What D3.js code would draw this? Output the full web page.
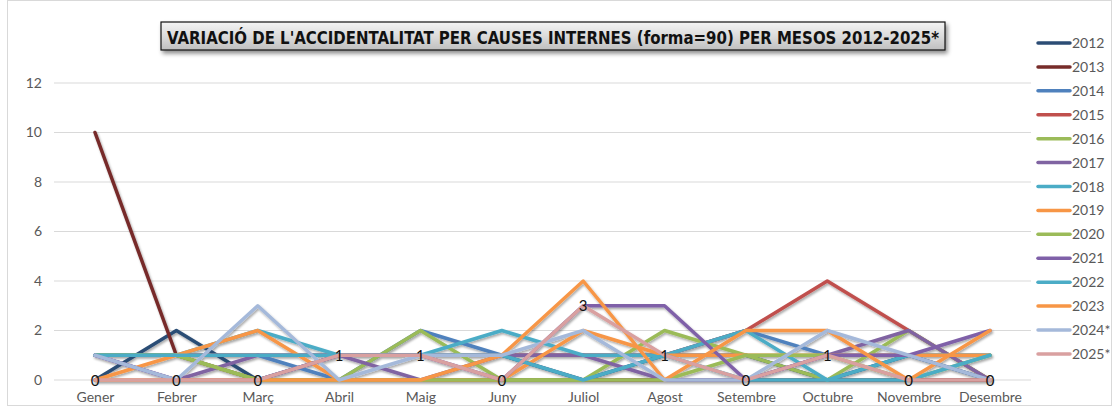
<!DOCTYPE html>
<html>
<head>
<meta charset="utf-8">
<script src="https://cdn.jsdelivr.net/npm/d3@7"></script>
<style>
  html, body { margin: 0; padding: 0; background: #fff; }
  svg { display: block; }
</style>
</head>
<body>
<svg id="chart" width="1113" height="409"></svg>
<script>
// Months on the x axis
const months = ["Gener","Febrer","Març","Abril","Maig","Juny","Juliol","Agost","Setembre","Octubre","Novembre","Desembre"];

// Year series names, in draw order
const years = ["2012","2013","2014","2015","2016","2017","2018","2019","2020","2021","2022","2023","2024*","2025*"];

// Monthly accident counts per year
const v2012 = [0,2,0,1,1,1,0,1,1,0,1,0];
const v2013 = [10,1,0,0,0,0,0,0,0,0,0,0];
const v2014 = [1,1,1,0,2,1,1,1,2,1,1,1];
const v2015 = [1,1,1,1,1,1,1,1,2,4,2,0];
const v2016 = [1,1,0,0,2,0,0,2,1,0,2,0];
const v2017 = [1,0,1,1,0,1,1,0,0,1,2,0];
const v2018 = [1,1,2,1,1,2,1,1,2,0,1,1];
const v2019 = [0,1,2,0,0,0,2,1,1,1,1,1];
const v2020 = [1,1,0,0,0,0,0,0,1,1,0,1];
const v2021 = [1,0,0,1,1,0,3,3,0,1,1,2];
const v2022 = [1,1,1,1,1,1,0,1,0,0,0,1];
const v2023 = [0,0,0,0,0,1,4,0,2,2,0,2];
const v2024 = [1,0,3,0,1,1,2,0,0,2,1,0];
const v2025 = [0,0,0,1,1,0,3,1,0,1,0,0];

const seriesValues = [v2012,v2013,v2014,v2015,v2016,v2017,v2018,v2019,v2020,v2021,v2022,v2023,v2024,v2025];

// Y axis ticks
const yTicks = [0,2,4,6,8,10,12];

const colors = ["#2C4D75","#772C2A","#4F81BD","#C0504D","#9BBB59","#8064A2","#4BACC6","#F79646",
                "#9BBB59","#7F60A8","#4BACC6","#F79646","#A5B9DA","#D9A0A0"];

const title = "VARIACIÓ DE L'ACCIDENTALITAT PER CAUSES INTERNES (forma=90) PER MESOS 2012-2025*";

const labelFont = "Lato, 'Open Sans', 'Liberation Sans', sans-serif";

const svg = d3.select("#chart");
const defs = svg.append("defs");

// Soft drop shadow under each line
const sh = defs.append("filter").attr("id","lineShadow")
  .attr("x","-10%").attr("y","-10%").attr("width","120%").attr("height","130%");
sh.append("feDropShadow").attr("dx",1.2).attr("dy",1.8).attr("stdDeviation",1.2)
  .attr("flood-color","#000").attr("flood-opacity",0.35);

// Shadow for the title box
const tsh = defs.append("filter").attr("id","titleShadow")
  .attr("x","-5%").attr("y","-30%").attr("width","110%").attr("height","170%");
tsh.append("feDropShadow").attr("dx",2).attr("dy",3).attr("stdDeviation",2)
  .attr("flood-color","#000").attr("flood-opacity",0.45);

const grad = defs.append("linearGradient").attr("id","titleFill")
  .attr("x1",0).attr("y1",0).attr("x2",0).attr("y2",1);
grad.append("stop").attr("offset","0%").attr("stop-color","#F4F4F4");
grad.append("stop").attr("offset","55%").attr("stop-color","#D9D9D9");
grad.append("stop").attr("offset","100%").attr("stop-color","#BFBFBF");

// Chart frame
svg.append("rect").attr("x",7.5).attr("y",0.5).attr("width",1104).attr("height",405)
  .attr("fill","#fff").attr("stroke","#D9D9D9");

const x = d3.scalePoint().domain(months).range([95, 990]);
const y = d3.scaleLinear().domain([0,12]).range([380, 83]);

// Horizontal gridlines
svg.append("g").selectAll("line").data(yTicks).join("line")
  .attr("x1",54).attr("x2",1031)
  .attr("y1",d=>y(d)).attr("y2",d=>y(d))
  .attr("stroke","#D9D9D9").attr("stroke-width",1);

// Y axis labels
const yAxis = svg.append("g").attr("transform","translate(45,0)")
  .call(d3.axisLeft(y).tickValues(yTicks).tickSize(0).tickPadding(3));
yAxis.select(".domain").remove();
yAxis.selectAll("text").attr("font-family",labelFont)
  .attr("font-size",14).attr("fill","#595959");

// X axis labels
const xAxis = svg.append("g").attr("transform","translate(0,385)")
  .call(d3.axisBottom(x).tickSize(0).tickPadding(7));
xAxis.select(".domain").remove();
xAxis.selectAll("text").attr("font-family",labelFont)
  .attr("font-size",14).attr("fill","#595959");

// Series lines
const line = d3.line().x((d,i)=>x(months[i])).y(d=>y(d));
svg.append("g").attr("filter","url(#lineShadow)")
  .selectAll("path").data(seriesValues).join("path")
  .attr("d", d=>line(d))
  .attr("fill","none")
  .attr("stroke",(d,i)=>colors[i])
  .attr("stroke-width",3.5)
  .attr("stroke-linejoin","round")
  .attr("stroke-linecap","round");

// Value labels of the last series
svg.append("g").selectAll("text").data(v2025).join("text")
  .attr("x",(d,i)=>x(months[i]))
  .attr("y",d=>y(d)+5.5)
  .attr("text-anchor","middle")
  .attr("font-family",labelFont)
  .attr("font-size",15).attr("fill","#111")
  .text(d=>d);

// Title box
svg.append("rect").attr("x",161).attr("y",22).attr("width",784).attr("height",28)
  .attr("fill","url(#titleFill)").attr("stroke","#111").attr("stroke-width",1.2)
  .attr("filter","url(#titleShadow)");
svg.append("text").attr("x",553).attr("y",43.5)
  .attr("text-anchor","middle")
  .attr("font-family","'DejaVu Sans Condensed', 'Liberation Sans Narrow', 'Liberation Sans', sans-serif")
  .attr("font-weight","bold").attr("font-size",18).attr("fill","#111")
  .attr("textLength",772).attr("lengthAdjust","spacingAndGlyphs")
  .text(title);

// Legend
const legend = svg.append("g").selectAll("g").data(years).join("g")
  .attr("transform",(d,i)=>`translate(1038,${43 + i*23.92})`);
legend.append("line").attr("x1",0).attr("x2",32).attr("y1",0).attr("y2",0)
  .attr("stroke",(d,i)=>colors[i]).attr("stroke-width",3.5).attr("stroke-linecap","round");
legend.append("text").attr("x",34).attr("y",5)
  .attr("font-family",labelFont)
  .attr("font-size",14).attr("fill","#595959")
  .text(d=>d);
</script>
</body>
</html>
